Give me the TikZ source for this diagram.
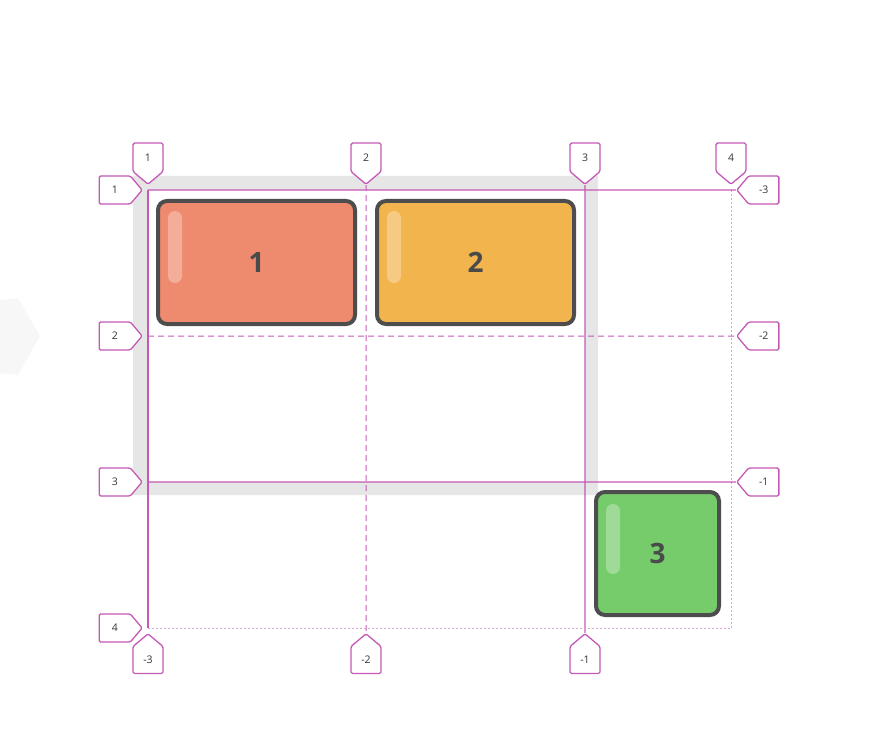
\documentclass[tikz,border=0pt]{standalone}
\usepackage{fontspec}
\setmainfont{Open Sans}
\usepackage{tikz}
\usetikzlibrary{shapes}
\usetikzlibrary{positioning}
\usetikzlibrary{calc}
\definecolor{gridline}{HTML}{C45AB5}
\definecolor{gridfaint}{HTML}{D8A4D0}
\definecolor{areagray}{HTML}{E6E6E6}
\definecolor{cardedge}{HTML}{4D4D4D}
\definecolor{cardtext}{HTML}{4A4A4A}
\definecolor{salmon}{HTML}{EE8A6D}
\definecolor{amber}{HTML}{F2B54E}
\definecolor{leaf}{HTML}{76CC6B}
\tikzstyle{tag}=[signal,draw=gridline,fill=white,line width=1.3pt,rounded corners=1.5pt,signal pointer angle=100,signal from=nowhere,inner sep=0pt,text=black!80]
\tikzstyle{toptag}=[tag,signal to=south,minimum width=30pt,minimum height=31pt]
\tikzstyle{bottag}=[tag,signal to=north,minimum width=30pt,minimum height=31pt]
\tikzstyle{lefttag}=[tag,signal to=east,minimum width=43pt,minimum height=28pt]
\tikzstyle{righttag}=[tag,signal to=west,minimum width=42pt,minimum height=28pt]
\tikzstyle{card}=[draw=cardedge,line width=4pt,rounded corners=9pt,minimum width=197pt,minimum height=123pt,inner sep=0pt,text=cardtext,font=\fontsize{28}{28}\selectfont\bfseries]
\tikzstyle{shine}=[white,opacity=0.3,rounded corners=7pt]

\begin{document}
\begin{tikzpicture}
	[x=1pt,y=-1pt,font=\fontsize{10.5}{10.5}\selectfont,node distance=5pt]
	\tikzstyle{mainline}=[gridline,line width=1.2pt];
	\tikzstyle{halfline}=[gridline,line width=1pt,dash pattern=on 6pt off 4pt];
	\tikzstyle{edgeline}=[gridfaint,line width=0.7pt,dash pattern=on 2pt off 2pt];
	\useasboundingbox (0,0) rectangle (892,746);
	\fill[black!3] (0,300) -- (18,298) -- (40,336) -- (18,375) -- (0,373) -- cycle;
	\coordinate (g11) at (148,190); \coordinate (g21) at (366,190); \coordinate (g31) at (585,190); \coordinate (g41) at (731,190);
	\coordinate (g12) at (148,336); \coordinate (g42) at (731,336);
	\coordinate (g13) at (148,482); \coordinate (g33) at (585,482); \coordinate (g43) at (731,482);
	\coordinate (g14) at (148,628); \coordinate (g24) at (366,628); \coordinate (g34) at (585,628); \coordinate (g44) at (731,628);
	\fill[areagray,even odd rule] ($(g11)+(-15,-14)$) rectangle ($(g33)+(13,13)$) (g11) rectangle (g33);
	% line tags
	\node (t1) [toptag,above=of g11] {1};
	\node (t2) [toptag,above=of g21] {2};
	\node (t3) [toptag,above=of g31] {3};
	\node (t4) [toptag,above=of g41] {4};
	\node (l1) [lefttag,left=of g11] {1};
	\node (l2) [lefttag,left=of g12] {2};
	\node (l3) [lefttag,left=of g13] {3};
	\node (l4) [lefttag,left=of g14] {4};
	\node (r1) [righttag,right=of g41] {-3};
	\node (r2) [righttag,right=of g42] {-2};
	\node (r3) [righttag,right=of g43] {-1};
	\node (b1) [bottag,below=of g14] {-3};
	\node (b2) [bottag,below=of g24] {-2};
	\node (b3) [bottag,below=of g34] {-1};
	% grid lines
	\draw[mainline] (g11) -- (g14);
	\draw[halfline] (t2) -- (b2);
	\draw[mainline] (t3) -- (b3);
	\draw[edgeline] (g41) -- (g44);
	\draw[mainline] (g11) -- (r1);
	\draw[halfline] (g12) -- (r2);
	\draw[mainline] (g13) -- (r3);
	\draw[edgeline] (g14) -- (g44);
	% items
	\node (1) [card,fill=salmon] at (256.5,262.5) {1};
	\node (2) [card,fill=amber,right=18pt of 1] {2};
	\node (3) [card,fill=leaf,minimum width=123pt,below right=164pt and 18pt of 2] {3};
	\fill[shine] ([xshift=12pt,yshift=-12pt]1.north west) rectangle +(14,72);
	\fill[shine] ([xshift=12pt,yshift=-12pt]2.north west) rectangle +(14,72);
	\fill[shine] ([xshift=12pt,yshift=-14pt]3.north west) rectangle +(14,70);
\end{tikzpicture}
\end{document}
